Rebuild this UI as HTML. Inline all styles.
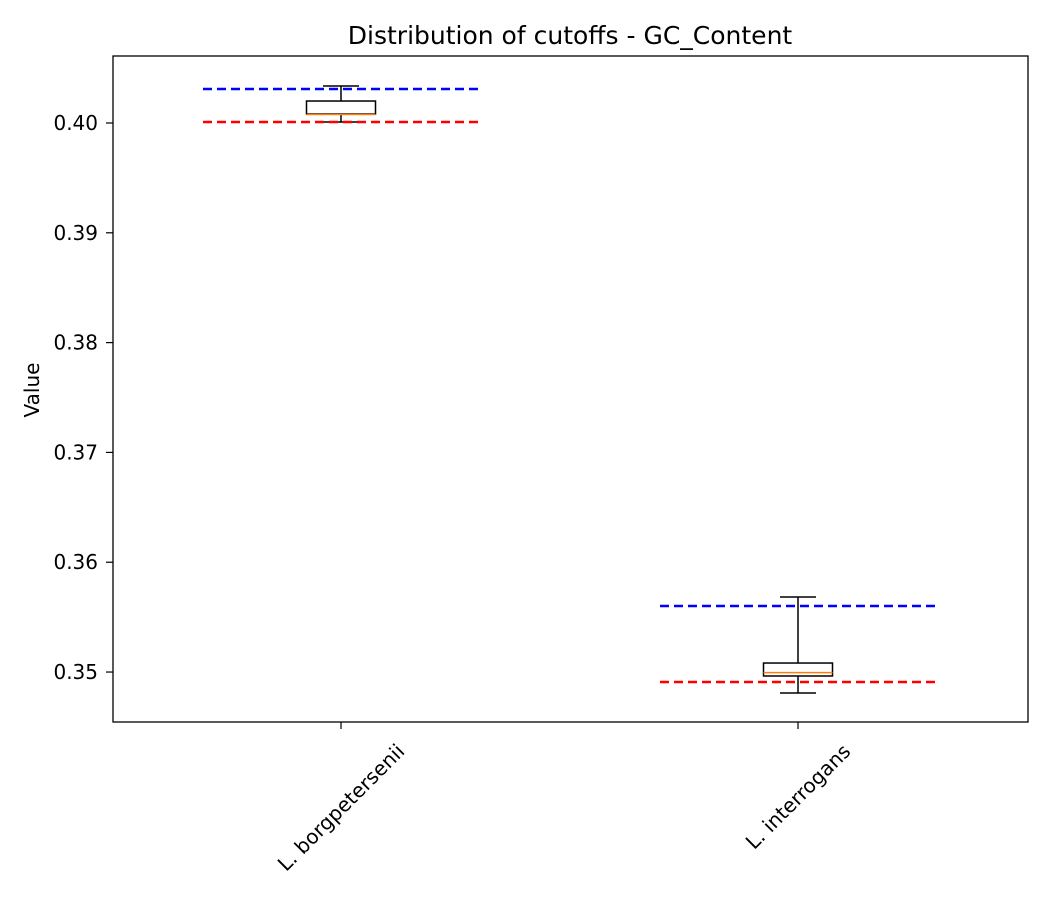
<!DOCTYPE html>
<html><head><meta charset="utf-8"><style>
body{margin:0;background:#fff;font-family:"Liberation Sans","DejaVu Sans",sans-serif;}
svg text{font-family:"DejaVu Sans","Liberation Sans",sans-serif;}
</style></head><body>
<svg id="chart" width="1050" height="900" xmlns="http://www.w3.org/2000/svg">
<rect width="1050" height="900" fill="#fff"/>
<text x="570" y="44" text-anchor="middle" font-size="25">Distribution of cutoffs - GC_Content</text>
<text transform="translate(39,390) rotate(-90)" text-anchor="middle" font-size="20">Value</text>
<g id="plot"></g>
<rect x="113" y="56" width="915" height="666" fill="none" stroke="#000" stroke-width="1.3"/>
</svg>
<script>
const categories = ["L. borgpetersenii", "L. interrogans"];
const whiskerLow = [0.40009, 0.34809];
const q1 = [0.40082, 0.34964];
const median = [0.40077, 0.34995];
const q3 = [0.40200, 0.35082];
const whiskerHigh = [0.40337, 0.35683];
const blueRef = [0.40310, 0.35601];
const redRef = [0.40009, 0.34909];
const yTicks = [0.35, 0.36, 0.37, 0.38, 0.39, 0.40];
const yTickLabels = ["0.35", "0.36", "0.37", "0.38", "0.39", "0.40"];

(function(){
const yMin = 0.34545, yMax = 0.40610, plotTop = 56, plotBottom = 722, plotLeft = 113;
const y = v => plotBottom - (v - yMin) / (yMax - yMin) * (plotBottom - plotTop);
const xCenters = [341, 798];
const x = i => xCenters[0] + i * (xCenters[1] - xCenters[0]);
const NS = "http://www.w3.org/2000/svg";
const g = document.getElementById("plot");
function mk(tag, attrs){const e=document.createElementNS(NS,tag);for(const k in attrs)e.setAttribute(k,attrs[k]);g.appendChild(e);return e;}

yTicks.forEach((t,i)=>{
  const yy=y(t);
  const tk=mk("line",{x1:plotLeft-7,x2:plotLeft,y1:yy,y2:yy,stroke:"#000","stroke-width":1.2});
  
  
  const tx=mk("text",{x:plotLeft-15,y:yy+7,"text-anchor":"end","font-size":20});
  tx.textContent=yTickLabels[i];
  
  
});

categories.forEach((c,i)=>{
  const cx=x(i), hw=34.5, cw=18, lw=138;
  const tk=mk("line",{x1:cx,x2:cx,y1:plotBottom,y2:plotBottom+7,stroke:"#000","stroke-width":1.2});
  
  
  const lab=mk("text",{"text-anchor":"middle","dominant-baseline":"central","font-size":20});
  lab.textContent=c;
  
  
  const L=lab.getComputedTextLength();
  const cy=plotBottom+20+(L+16)*0.7071/2;
  lab.setAttribute('transform',`translate(${cx},${cy}) rotate(-45)`);
  const wl=mk("line",{x1:cx,x2:cx,y1:y(whiskerLow[i]),y2:y(q1[i]),stroke:"#000","stroke-width":1.5});
  
  
  const wh=mk("line",{x1:cx,x2:cx,y1:y(q3[i]),y2:y(whiskerHigh[i]),stroke:"#000","stroke-width":1.5});
  
  
  const cl=mk("line",{x1:cx-cw,x2:cx+cw,y1:y(whiskerLow[i]),y2:y(whiskerLow[i]),stroke:"#000","stroke-width":1.5});
  
  
  const ch=mk("line",{x1:cx-cw,x2:cx+cw,y1:y(whiskerHigh[i]),y2:y(whiskerHigh[i]),stroke:"#000","stroke-width":1.5});
  
  
  const yt=y(Math.max(q1[i],q3[i])), yb=y(Math.min(q1[i],q3[i]));
  const b=mk("rect",{x:cx-hw,y:yt,width:2*hw,height:Math.max(yb-yt,1),fill:"#fff",stroke:"#000","stroke-width":1.5});
  
  
  const m=mk("line",{x1:cx-hw,x2:cx+hw,y1:y(median[i]),y2:y(median[i]),stroke:"#ff7f0e","stroke-width":1.5});
  
  
  const bl=mk("line",{x1:cx-lw,x2:cx+lw,y1:y(blueRef[i]),y2:y(blueRef[i]),stroke:"#0000ff","stroke-width":2.5,"stroke-dasharray":"9,5"});
  
  
  const rl=mk("line",{x1:cx-lw,x2:cx+lw,y1:y(redRef[i]),y2:y(redRef[i]),stroke:"#ff0000","stroke-width":2.5,"stroke-dasharray":"9,5"});
  
  
});
})();
</script>
</body></html>
